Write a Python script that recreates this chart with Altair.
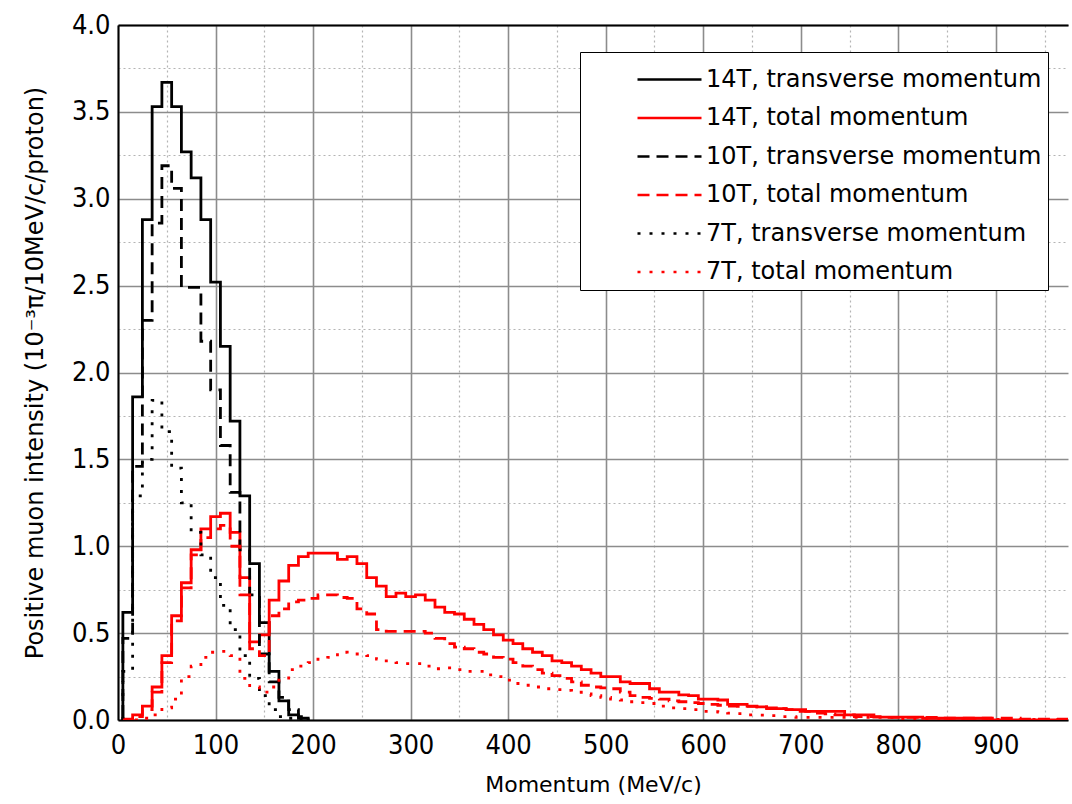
import altair as alt
import pandas as pd

# Bin centres (10 MeV/c bins, edges at centre +/- 5)
t14_trans = [0.62, 1.86, 2.88, 3.53, 3.67, 3.53, 3.27, 3.12, 2.88, 2.52, 2.15, 1.72, 1.29,
             0.90, 0.56, 0.28, 0.11, 0.03, 0.01]
t10_trans = [0.47, 1.46, 2.30, 2.86, 3.19, 3.06, 2.49, 2.49, 2.18, 1.90, 1.58, 1.31, 0.98,
             0.72, 0.38, 0.22, 0.13, 0.06, 0.02]
t7_trans = [0.28, 1.29, 1.50, 1.84, 1.66, 1.45, 1.25, 1.08, 0.95, 0.82, 0.66, 0.52, 0.37,
            0.24, 0.14, 0.06, 0.02, 0.01, 0.0]

t14_total = [0.005, 0.03, 0.08, 0.19, 0.37, 0.60, 0.79, 0.98, 1.10, 1.17, 1.19, 1.08, 0.82,
             0.45, 0.49, 0.69, 0.80, 0.89, 0.94, 0.96, 0.96, 0.96, 0.925, 0.94, 0.90, 0.82,
             0.77, 0.71, 0.73, 0.71, 0.72, 0.69, 0.65, 0.62, 0.61, 0.58, 0.55, 0.52, 0.49,
             0.46, 0.44, 0.41, 0.39, 0.37, 0.34, 0.33, 0.31, 0.29, 0.27, 0.25, 0.25, 0.22,
             0.21, 0.21, 0.18, 0.16, 0.16, 0.145, 0.14, 0.12, 0.12, 0.115, 0.09, 0.09, 0.08,
             0.075, 0.07, 0.065, 0.06, 0.06, 0.05, 0.05, 0.05, 0.05, 0.03, 0.03, 0.03,
             0.017, 0.017, 0.017, 0.017, 0.017, 0.01, 0.01, 0.01, 0.01, 0.01, 0.01, 0.01,
             0.0, 0.0, 0.0, 0.0, 0.0, 0.0, 0.0, 0.0]
t10_total = [0.0, 0.02, 0.06, 0.16, 0.33, 0.57, 0.76, 0.95, 1.05, 1.10, 1.12, 1.00, 0.72,
             0.41, 0.37, 0.60, 0.64, 0.68, 0.69, 0.70, 0.72, 0.72, 0.705, 0.70, 0.64, 0.61,
             0.52, 0.51, 0.51, 0.51, 0.51, 0.50, 0.47, 0.44, 0.42, 0.41, 0.39, 0.38, 0.36,
             0.35, 0.33, 0.31, 0.29, 0.27, 0.255, 0.24, 0.22, 0.20, 0.19, 0.185, 0.18, 0.16,
             0.14, 0.13, 0.125, 0.12, 0.11, 0.105, 0.10, 0.095, 0.09, 0.085, 0.08, 0.078,
             0.078, 0.075, 0.065, 0.065, 0.06, 0.05, 0.05, 0.04, 0.035, 0.03, 0.03, 0.02,
             0.02, 0.02, 0.015, 0.015, 0.015, 0.015, 0.015, 0.015, 0.01, 0.01, 0.01, 0.01,
             0.01, 0.01, 0.01, 0.01, 0.005, 0.005, 0.005, 0.005, 0.005]
t7_total = [0.0, 0.0, 0.01, 0.03, 0.07, 0.12, 0.25, 0.31, 0.36, 0.39, 0.395, 0.37, 0.24,
            0.19, 0.16, 0.19, 0.23, 0.29, 0.31, 0.33, 0.35, 0.36, 0.39, 0.38, 0.38, 0.37,
            0.35, 0.34, 0.33, 0.325, 0.325, 0.31, 0.295, 0.30, 0.29, 0.28, 0.28, 0.26,
            0.25, 0.23, 0.21, 0.20, 0.19, 0.18, 0.175, 0.17, 0.16, 0.15, 0.14, 0.13, 0.12,
            0.115, 0.105, 0.10, 0.095, 0.08, 0.07, 0.065, 0.06, 0.05, 0.048, 0.045, 0.04,
            0.037, 0.03, 0.028, 0.025, 0.02, 0.02, 0.015, 0.015, 0.015, 0.015, 0.015, 0.015,
            0.015, 0.015, 0.015, 0.015, 0.008, 0.008, 0.008, 0.008, 0.008, 0.008, 0.008,
            0.008, 0.008, 0.003, 0.003, 0.003, 0.003, 0.003, 0.003, 0.003, 0.003, 0.003]

labels = ["14T, transverse momentum", "14T, total momentum",
          "10T, transverse momentum", "10T, total momentum",
          "7T, transverse momentum", "7T, total momentum"]
series = [t14_trans, t14_total, t10_trans, t10_total, t7_trans, t7_total]
colors = ["black", "#ff0000", "black", "#ff0000", "black", "#ff0000"]
dashes = [[1, 0], [1, 0], [12, 7], [12, 7], [3, 9], [3, 9]]

BIN = 10
rows = []
for lab, vals in zip(labels, series):
    i = 0
    edges = [5 + BIN * k for k in range(len(vals))]
    rows.append({"series": lab, "x": edges[0], "y": 0.0, "i": i}); i += 1
    for e, v in zip(edges, vals):
        rows.append({"series": lab, "x": e, "y": v, "i": i}); i += 1
    last = edges[-1] + BIN
    rows.append({"series": lab, "x": last, "y": vals[-1], "i": i}); i += 1
    rows.append({"series": lab, "x": last, "y": 0.0, "i": i}); i += 1
df = pd.DataFrame(rows)

FONT_NUM = "Liberation Sans Narrow, DejaVu Sans Condensed, Liberation Sans, sans-serif"
FONT_TXT = "DejaVu Sans, Liberation Sans, sans-serif"

xvals = list(range(0, 951, 50))
yvals = [k * 0.25 for k in range(17)]

grid_dash_x = {"condition": {"test": "datum.value % 100 === 0", "value": [1, 0]}, "value": [2, 3]}
grid_dash_y = {"condition": {"test": "datum.value % 0.5 === 0", "value": [1, 0]}, "value": [2, 3]}
grid_col_x = {"condition": {"test": "datum.value % 100 === 0", "value": "#8c8c8c"}, "value": "#b4b4b4"}
grid_col_y = {"condition": {"test": "datum.value % 0.5 === 0", "value": "#8c8c8c"}, "value": "#b4b4b4"}
grid_w_x = {"condition": {"test": "datum.value % 100 === 0", "value": 1.6}, "value": 1.2}
grid_w_y = {"condition": {"test": "datum.value % 0.5 === 0", "value": 1.6}, "value": 1.2}

legend = alt.Legend(
    orient="none", legendX=462, legendY=27, title=None,
    symbolType="M-1.6,0H1.6", symbolSize=1600, symbolStrokeWidth=2.6, symbolOffset=62,
    labelFont=FONT_TXT, labelFontSize=24, labelColor="black", labelLimit=500,
    labelOffset=15, fillColor="white", strokeColor="black", padding=6,
    rowPadding=4.5, offset=0,
)

base = alt.Chart(df)

lines = base.mark_line(interpolate="step-after", strokeWidth=2.8, clip=True).encode(
    x=alt.X("x:Q", scale=alt.Scale(domain=[0, 974], nice=False, zero=False),
            axis=alt.Axis(values=xvals, labelExpr="datum.value % 100 === 0 ? datum.label : ''",
                          format="d", title="Momentum (MeV/c)", grid=True,
                          gridDash=grid_dash_x, gridColor=grid_col_x, gridWidth=grid_w_x,
                          ticks=False, domainColor="black", domainWidth=2,
                          labelFont=FONT_NUM, labelFontSize=27, labelColor="black",
                          labelPadding=12, titleFont=FONT_TXT, titleFontSize=22,
                          titleFontWeight="normal", titleColor="black", titlePadding=16,
                          labelFlush=False)),
    y=alt.Y("y:Q", scale=alt.Scale(domain=[0, 4], nice=False),
            axis=alt.Axis(values=yvals,
                          labelExpr="datum.value % 0.5 === 0 ? format(datum.value, '.1f') : ''",
                          title="Positive muon intensity (10\u207b\u00b3\u03c0/10MeV/c/proton)",
                          grid=True, gridDash=grid_dash_y, gridColor=grid_col_y,
                          gridWidth=grid_w_y, ticks=False, domainColor="black",
                          domainWidth=2, labelFont=FONT_NUM, labelFontSize=27,
                          labelColor="black", labelPadding=8, titleFont=FONT_TXT,
                          titleFontSize=24, titleFontWeight="normal", titleColor="black",
                          titlePadding=24, labelFlush=False)),
    color=alt.Color("series:N", scale=alt.Scale(domain=labels, range=colors), legend=legend),
    strokeDash=alt.StrokeDash("series:N", scale=alt.Scale(domain=labels, range=dashes),
                              legend=legend),
    order=alt.Order("i:Q"),
    detail="series:N",
)

top_axis = base.mark_point(opacity=0).encode(
    x=alt.X("x:Q", scale=alt.Scale(domain=[0, 974], nice=False, zero=False),
            axis=alt.Axis(orient="top", labels=False, ticks=False, grid=False, title=None,
                          domainColor="black", domainWidth=2)),
)

chart = alt.layer(lines, top_axis).resolve_axis(x="independent").properties(
    width=950, height=695,
    autosize=alt.AutoSizeParams(type="none"),
    padding={"left": 118, "top": 25, "right": 2, "bottom": 80},
    background="white",
).configure_view(stroke=None)

chart.save("out.html", embed_options={"renderer": "svg", "actions": False})
